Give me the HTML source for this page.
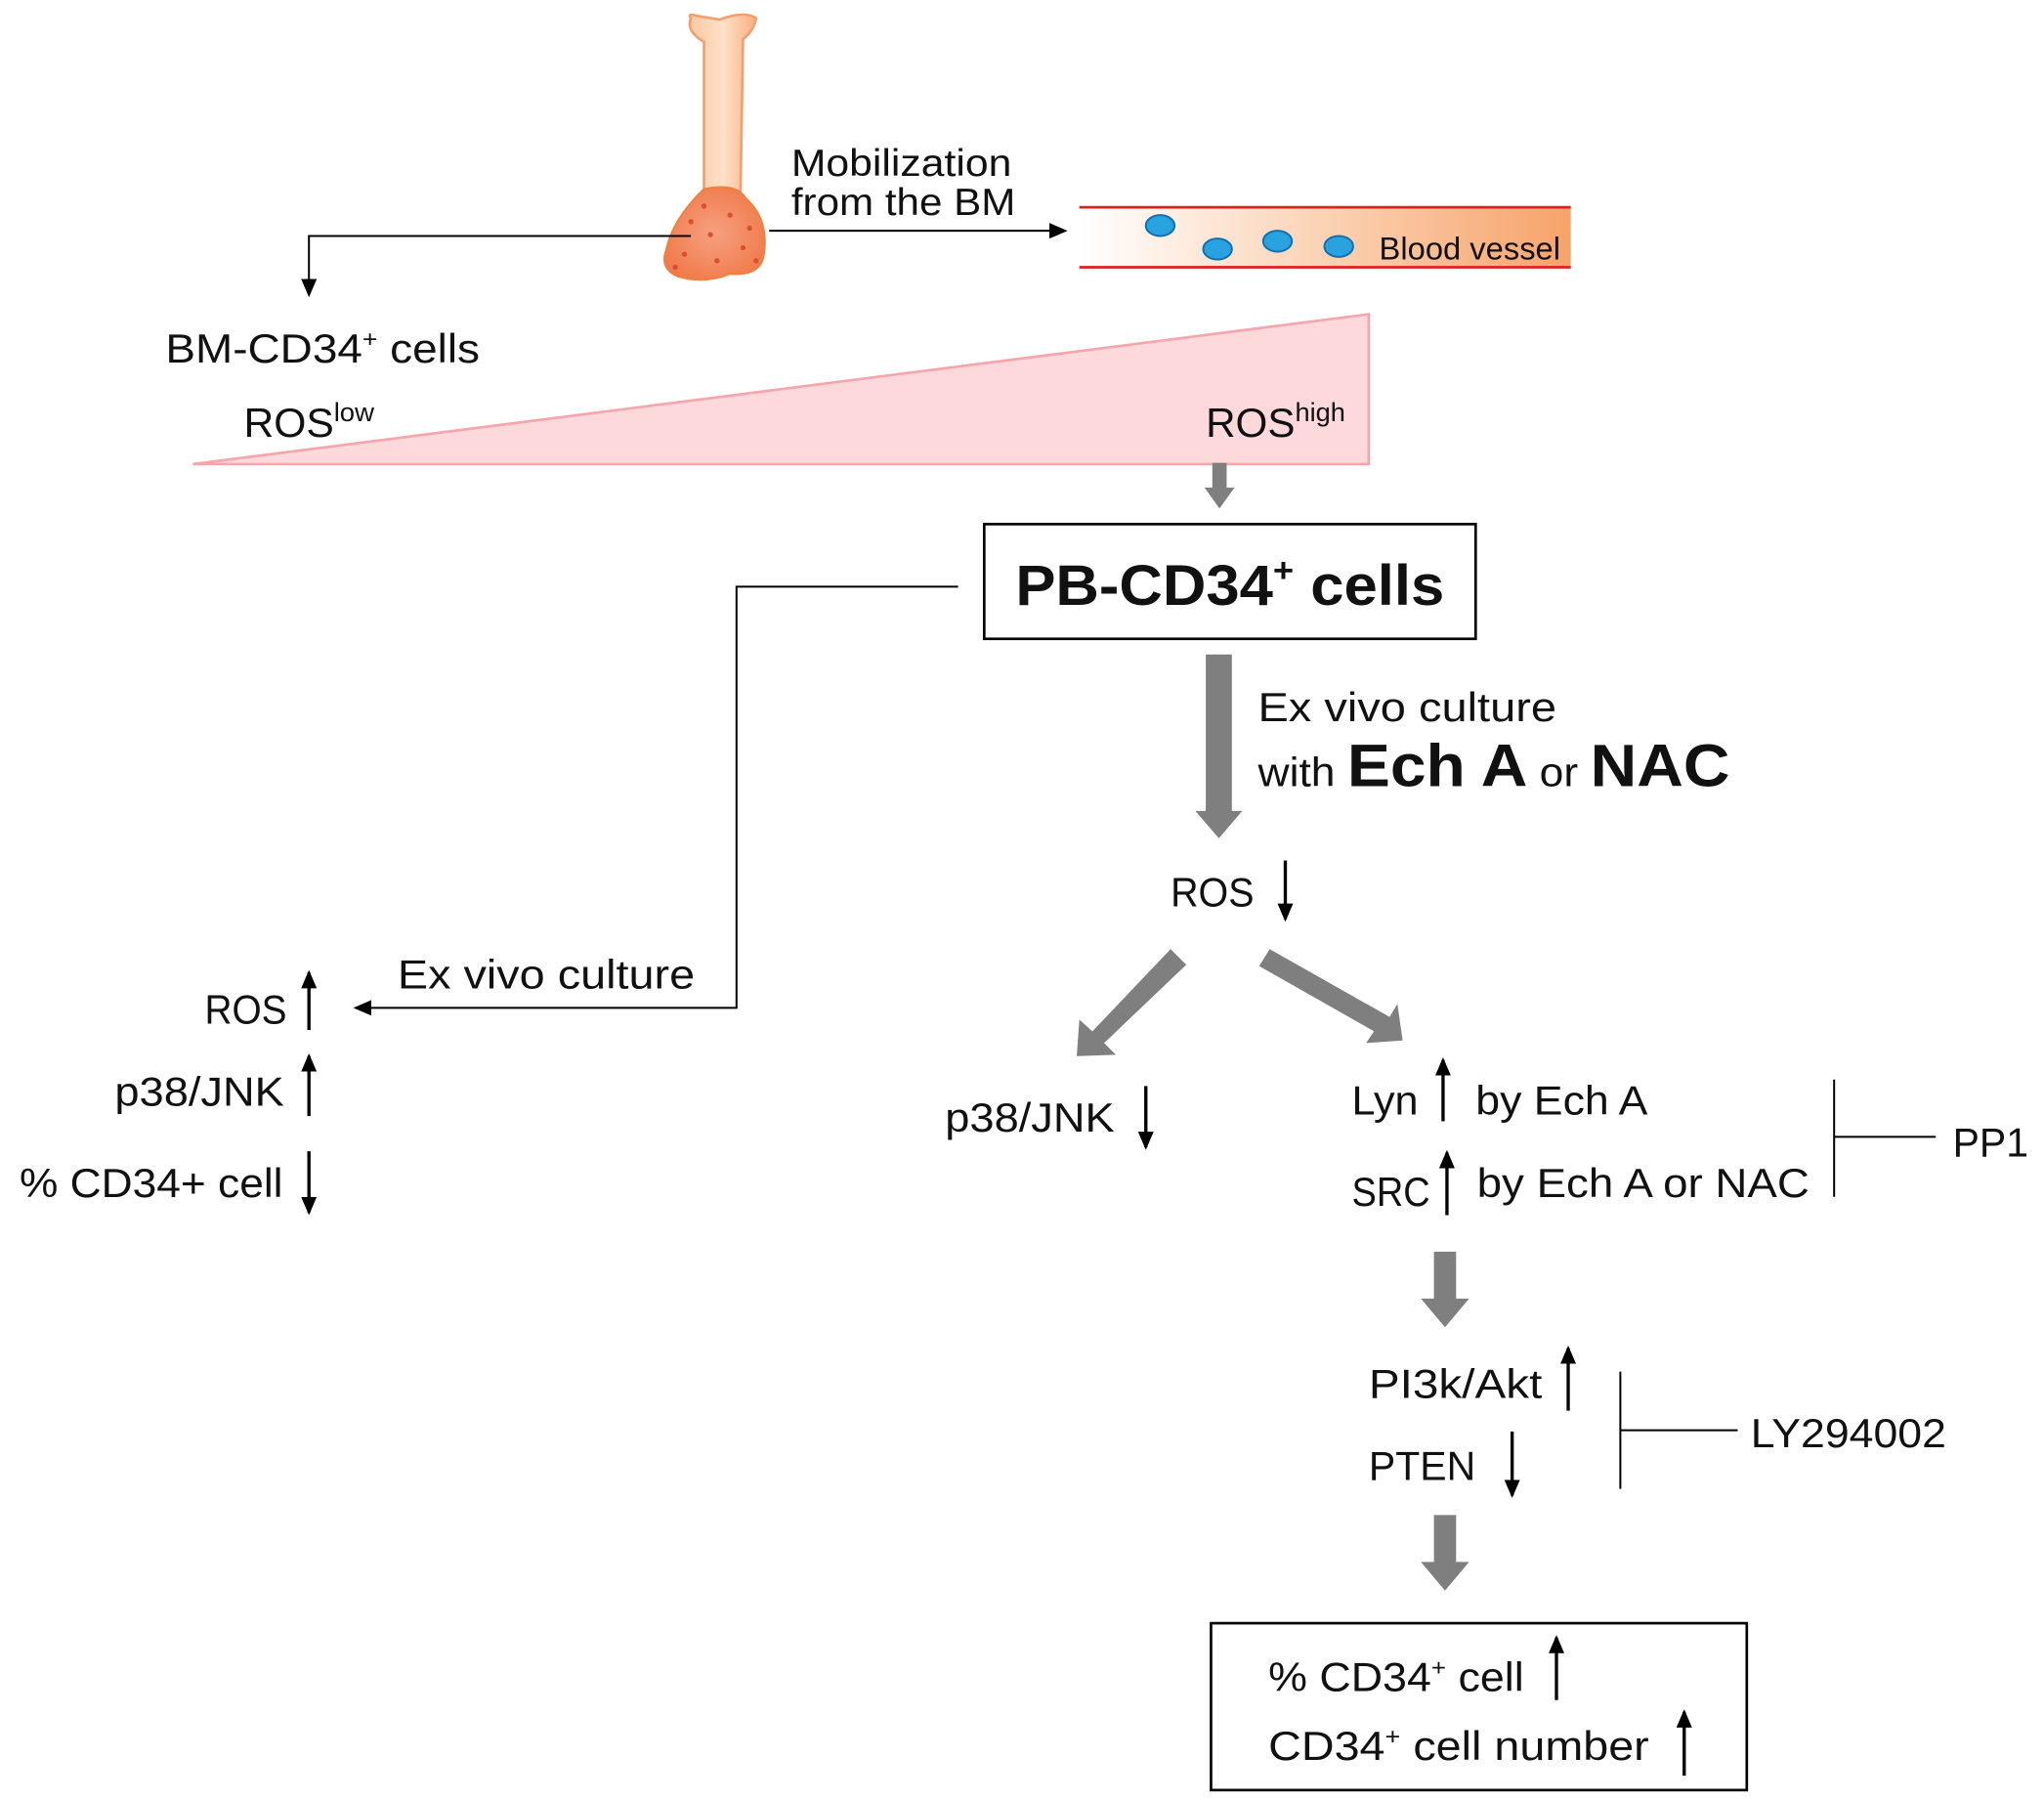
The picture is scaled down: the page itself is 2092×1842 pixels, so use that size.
<!DOCTYPE html>
<html><head><meta charset="utf-8"><style>
html,body{margin:0;padding:0;background:#fff;}
svg{display:block;}
text{font-family:"Liberation Sans",sans-serif;fill:#111;}
</style></head><body>
<svg width="2092" height="1842" viewBox="0 0 1568 1380.6" preserveAspectRatio="none" xmlns="http://www.w3.org/2000/svg">
<defs>
<marker id="ah" markerWidth="14" markerHeight="12" refX="12" refY="6" orient="auto" markerUnits="userSpaceOnUse"><path d="M0,0 L14,6 L0,12 z" fill="#000"/></marker>
<linearGradient id="bv" x1="0" y1="0" x2="1" y2="0"><stop offset="0" stop-color="#fff"/><stop offset="0.5" stop-color="#fbd2b4"/><stop offset="1" stop-color="#f7a36a"/></linearGradient>
<linearGradient id="sh" x1="0" y1="0" x2="1" y2="0"><stop offset="0" stop-color="#fbc9a0"/><stop offset="0.5" stop-color="#fde0c8"/><stop offset="1" stop-color="#f8b080"/></linearGradient>
<radialGradient id="bn" cx="0.5" cy="0.5" r="0.6"><stop offset="0" stop-color="#f6a080"/><stop offset="1" stop-color="#f07848"/></radialGradient>
</defs>
<!-- bone -->
<path d="M530,14 Q527,10 534,12 L552,15 Q572,8 580,14 Q578,24 570,30 L568,150 L540,150 L540,32 Q526,24 530,14 z" fill="url(#sh)" stroke="#f2a070" stroke-width="2"/>
<path d="M540,145 Q565,140 572,152 Q590,168 586,195 Q584,212 560,210 Q540,218 520,212 Q506,206 511,192 Q516,168 540,145 z" fill="url(#bn)" stroke="#f08040" stroke-width="1.5"/>
<g fill="#d85030"><circle cx="530" cy="170" r="2"/><circle cx="545" cy="180" r="2"/><circle cx="560" cy="165" r="2"/><circle cx="570" cy="190" r="2"/><circle cx="525" cy="195" r="2"/><circle cx="550" cy="200" r="2"/><circle cx="575" cy="175" r="2"/><circle cx="540" cy="158" r="2"/><circle cx="518" cy="205" r="2"/><circle cx="580" cy="200" r="2"/></g>
<polyline points="530,181 237,181 237,226" fill="none" stroke="#000" stroke-width="1.5" marker-end="url(#ah)"/>
<text x="607" y="135" font-size="29" textLength="169" lengthAdjust="spacingAndGlyphs">Mobilization</text>
<text x="607" y="165" font-size="29" textLength="172" lengthAdjust="spacingAndGlyphs">from the BM</text>
<line x1="590" y1="177" x2="817" y2="177" stroke="#000" stroke-width="1.5" marker-end="url(#ah)"/>
<rect x="828" y="159" width="377" height="46" fill="url(#bv)"/>
<line x1="828" y1="159" x2="1205" y2="159" stroke="#e02020" stroke-width="2"/>
<line x1="828" y1="205" x2="1205" y2="205" stroke="#e02020" stroke-width="2"/>
<g fill="#29a3e0" stroke="#1070b0" stroke-width="1.5">
<ellipse cx="890" cy="173" rx="11" ry="8"/><ellipse cx="934" cy="191" rx="11" ry="8"/><ellipse cx="980" cy="185" rx="11" ry="8"/><ellipse cx="1027" cy="189" rx="11" ry="8"/></g>
<text x="1058" y="199" font-size="24" textLength="139" lengthAdjust="spacingAndGlyphs">Blood vessel</text>
<text x="127" y="278" font-size="31" textLength="241" lengthAdjust="spacingAndGlyphs">BM-CD34<tspan font-size="18" dy="-12">+</tspan><tspan dy="12"> cells</tspan></text>
<polygon points="148,356 1050,241 1050,356" fill="#fdd9dc" stroke="#f5a6ad" stroke-width="2"/>
<text x="187" y="335" font-size="31" textLength="100" lengthAdjust="spacingAndGlyphs">ROS<tspan font-size="20" dy="-12">low</tspan></text>
<text x="925" y="335" font-size="31" textLength="107" lengthAdjust="spacingAndGlyphs">ROS<tspan font-size="20" dy="-12">high</tspan></text>
<polygon points="930,355 941,355 941,374 947,374 935.5,390 924,374 930,374" fill="#7f7f7f"/>
<rect x="755" y="402" width="377" height="88" fill="#fff" stroke="#000" stroke-width="2"/>
<text x="779" y="464" font-size="44" font-weight="bold" textLength="329" lengthAdjust="spacingAndGlyphs">PB-CD34<tspan font-size="26" dy="-18">+</tspan><tspan dy="18"> cells</tspan></text>
<polyline points="735,450 565,450 565,773 273,773" fill="none" stroke="#000" stroke-width="1.5" marker-end="url(#ah)"/>
<text x="305" y="758" font-size="31" textLength="228" lengthAdjust="spacingAndGlyphs">Ex vivo culture</text>
<text x="157" y="785" font-size="31" textLength="63" lengthAdjust="spacingAndGlyphs">ROS</text>
<text x="88" y="848" font-size="31" textLength="130" lengthAdjust="spacingAndGlyphs">p38/JNK</text>
<text x="15" y="918" font-size="31" textLength="202" lengthAdjust="spacingAndGlyphs">% CD34+ cell</text>
<g stroke="#000" stroke-width="2.5">
<line x1="237" y1="790" x2="237" y2="746" marker-end="url(#ah)"/>
<line x1="237" y1="856" x2="237" y2="810" marker-end="url(#ah)"/>
<line x1="237" y1="883" x2="237" y2="930" marker-end="url(#ah)"/>
</g>
<polygon points="925,502 945,502 945,622 953,622 935,643 917,622 925,622" fill="#7f7f7f"/>
<text x="965" y="553" font-size="31" textLength="229" lengthAdjust="spacingAndGlyphs">Ex vivo culture</text>
<text x="965" y="603" font-size="31" textLength="362" lengthAdjust="spacingAndGlyphs">with <tspan font-size="46" font-weight="bold">Ech A</tspan> or <tspan font-size="46" font-weight="bold">NAC</tspan></text>
<text x="898" y="695" font-size="31" textLength="64" lengthAdjust="spacingAndGlyphs">ROS</text>
<line x1="986" y1="660" x2="986" y2="705" stroke="#000" stroke-width="2.5" marker-end="url(#ah)"/>
<g fill="#7f7f7f">
<polygon points="898,728 910,740 847,800 856,809 826,810 828,782 838,791"/>
<polygon points="974,728 1066,780 1072,770 1076,798 1048,800 1054,791 966,741"/>
</g>
<text x="725" y="868" font-size="31" textLength="130" lengthAdjust="spacingAndGlyphs">p38/JNK</text>
<line x1="879" y1="833" x2="879" y2="880" stroke="#000" stroke-width="2.5" marker-end="url(#ah)"/>
<text x="1037" y="855" font-size="31" textLength="51" lengthAdjust="spacingAndGlyphs">Lyn</text>
<line x1="1107" y1="860" x2="1107" y2="813" stroke="#000" stroke-width="2.5" marker-end="url(#ah)"/>
<text x="1132" y="855" font-size="31" textLength="132" lengthAdjust="spacingAndGlyphs">by Ech A</text>
<text x="1037" y="925" font-size="31" textLength="60" lengthAdjust="spacingAndGlyphs">SRC</text>
<line x1="1110" y1="932" x2="1110" y2="884" stroke="#000" stroke-width="2.5" marker-end="url(#ah)"/>
<text x="1133" y="918" font-size="31" textLength="255" lengthAdjust="spacingAndGlyphs">by Ech A or NAC</text>
<line x1="1407" y1="828" x2="1407" y2="918" stroke="#000" stroke-width="1.5"/>
<line x1="1407" y1="872" x2="1485" y2="872" stroke="#000" stroke-width="1.5"/>
<text x="1498" y="887" font-size="31" textLength="58" lengthAdjust="spacingAndGlyphs">PP1</text>
<polygon points="1100,960 1117,960 1117,996 1127,996 1108.5,1018 1090,996 1100,996" fill="#7f7f7f"/>
<text x="1050" y="1072" font-size="31" textLength="133" lengthAdjust="spacingAndGlyphs">PI3k/Akt</text>
<line x1="1203" y1="1082" x2="1203" y2="1034" stroke="#000" stroke-width="2.5" marker-end="url(#ah)"/>
<text x="1050" y="1135" font-size="31" textLength="82" lengthAdjust="spacingAndGlyphs">PTEN</text>
<line x1="1160" y1="1098" x2="1160" y2="1147" stroke="#000" stroke-width="2.5" marker-end="url(#ah)"/>
<line x1="1243" y1="1052" x2="1243" y2="1142" stroke="#000" stroke-width="1.5"/>
<line x1="1243" y1="1097" x2="1333" y2="1097" stroke="#000" stroke-width="1.5"/>
<text x="1343" y="1110" font-size="31" textLength="150" lengthAdjust="spacingAndGlyphs">LY294002</text>
<polygon points="1100,1162 1117,1162 1117,1198 1127,1198 1108.5,1220 1090,1198 1100,1198" fill="#7f7f7f"/>
<rect x="929" y="1245" width="411" height="128" fill="#fff" stroke="#000" stroke-width="2"/>
<text x="973" y="1297" font-size="31" textLength="196" lengthAdjust="spacingAndGlyphs">% CD34<tspan font-size="18" dy="-12">+</tspan><tspan dy="12"> cell</tspan></text>
<line x1="1194" y1="1304" x2="1194" y2="1256" stroke="#000" stroke-width="2.5" marker-end="url(#ah)"/>
<text x="973" y="1350" font-size="31" textLength="292" lengthAdjust="spacingAndGlyphs">CD34<tspan font-size="18" dy="-12">+</tspan><tspan dy="12"> cell number</tspan></text>
<line x1="1292" y1="1362" x2="1292" y2="1313" stroke="#000" stroke-width="2.5" marker-end="url(#ah)"/>
</svg>
</body></html>
